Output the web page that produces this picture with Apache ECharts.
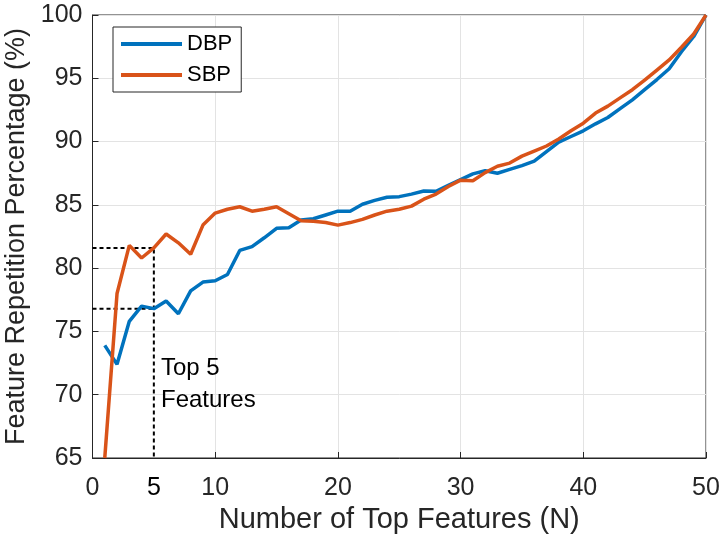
<!DOCTYPE html>
<html>
<head>
<meta charset="utf-8">
<script src="https://cdn.jsdelivr.net/npm/echarts@6/dist/echarts.min.js"></script>
<style>html,body{margin:0;padding:0;background:#fff;}#c{width:726px;height:543px;}</style>
</head>
<body>
<div id="c"></div>
<script>
const topN = [1,2,3,4,5,6,7,8,9,10,11,12,13,14,15,16,17,18,19,20,21,22,23,24,25,26,27,28,29,30,31,32,33,34,35,36,37,38,39,40,41,42,43,44,45,46,47,48,49,50];
const dbp = [73.9,72.4,75.8,77.0,76.8,77.4,76.4,78.2,78.9,79.0,79.5,81.4,81.7,82.4,83.15,83.2,83.8,83.9,84.2,84.5,84.5,85.05,85.35,85.6,85.65,85.85,86.1,86.07,86.55,87.0,87.45,87.7,87.5,87.8,88.1,88.45,89.2,89.95,90.4,90.85,91.4,91.9,92.6,93.3,94.1,94.9,95.75,97.1,98.3,100];
const sbp = [65.0,78.0,81.8,80.8,81.6,82.7,82.0,81.1,83.4,84.35,84.65,84.85,84.5,84.65,84.85,84.3,83.75,83.7,83.6,83.4,83.6,83.85,84.2,84.5,84.65,84.9,85.45,85.85,86.45,86.95,86.9,87.55,88.05,88.3,88.85,89.25,89.65,90.2,90.85,91.45,92.25,92.8,93.45,94.1,94.85,95.65,96.45,97.45,98.5,100];
const xTicks = [0,10,20,30,40,50];
const yTicks = [65,70,75,80,85,90,95,100];
const highlightN = 5;
const seriesNames = ['DBP','SBP'];

const font = 'Liberation Sans, Arial, Helvetica, sans-serif';
const idx = topN.indexOf(highlightN);
const yMin = yTicks[0];

const chart = echarts.init(document.getElementById('c'), null, {renderer:'canvas'});
chart.setOption({
  animation:false,
  backgroundColor:'#fff',
  grid:{left:92.5, right:20, top:15, bottom:85, containLabel:false, outerBoundsMode:'none',
        show:true, borderColor:'#262626', borderWidth:1, backgroundColor:'transparent'},
  legend:{
    data:seriesNames, orient:'vertical', left:113, top:27,
    itemWidth:61, itemHeight:22, itemGap:9, padding:[6,9,6,6],
    backgroundColor:'#fff', borderColor:'#262626', borderWidth:1,
    itemStyle:{opacity:0},
    lineStyle:{width:4},
    textStyle:{fontFamily:font, fontSize:22, color:'#000'}
  },
  xAxis:[{
    type:'value', min:xTicks[0], max:xTicks[xTicks.length-1], interval:10,
    name:'Number of Top Features (N)', nameLocation:'middle', nameGap:47,
    nameTruncate:{maxWidth:2000},
    nameTextStyle:{fontFamily:font, fontSize:29, color:'#262626'},
    axisLine:{show:true, lineStyle:{color:'#262626', width:1}},
    axisTick:{show:true, inside:true, length:6, lineStyle:{color:'#262626'}},
    axisLabel:{fontFamily:font, fontSize:25, color:'#262626', margin:18},
    splitLine:{show:true, lineStyle:{color:'#e3e3e3', width:1}}
  },{
    type:'value', position:'bottom', min:xTicks[0], max:xTicks[xTicks.length-1], interval:highlightN,
    axisLine:{show:false}, axisTick:{show:false}, splitLine:{show:false},
    axisLabel:{fontFamily:font, fontSize:25, color:'#000', margin:18,
      formatter:function(v){return v===highlightN? String(highlightN):'';}}
  }],
  yAxis:{
    type:'value', min:yMin, max:yTicks[yTicks.length-1], interval:5,
    name:'Feature Repetition Percentage (%)', nameLocation:'middle', nameGap:55,
    nameTruncate:{maxWidth:2000},
    nameTextStyle:{fontFamily:font, fontSize:27, color:'#262626'},
    axisLine:{show:true, lineStyle:{color:'#262626', width:1}},
    axisTick:{show:true, inside:true, length:6, lineStyle:{color:'#262626'}},
    axisLabel:{fontFamily:font, fontSize:25, color:'#262626', margin:10},
    splitLine:{show:true, lineStyle:{color:'#e3e3e3', width:1}}
  },
  series:[
    {name:'top-sbp', type:'line', symbol:'none', silent:true, z:1,
     data:[[0,sbp[idx]],[highlightN,sbp[idx]],[highlightN,yMin]],
     lineStyle:{color:'#000', width:2, type:[4,3]}},
    {name:'top-dbp', type:'line', symbol:'none', silent:true, z:1,
     data:[[0,dbp[idx]],[highlightN,dbp[idx]]],
     lineStyle:{color:'#000', width:2, type:[4,3]}},
    {name:seriesNames[0], type:'line', symbol:'none', showSymbol:false, z:3, clip:true,
     data:topN.map((n,i)=>[n,dbp[i]]),
     itemStyle:{color:'#0072BD'}, lineStyle:{color:'#0072BD', width:3.5}},
    {name:seriesNames[1], type:'line', symbol:'none', showSymbol:false, z:3, clip:true,
     data:topN.map((n,i)=>[n,sbp[i]]),
     itemStyle:{color:'#D95319'}, lineStyle:{color:'#D95319', width:3.5}}
  ],
  graphic:[{
    type:'text', left:161, top:352, z:10,
    style:{text:'Top 5\nFeatures', fontFamily:font, fontSize:24, lineHeight:32, fill:'#000'}
  }]
});
</script>
</body>
</html>
